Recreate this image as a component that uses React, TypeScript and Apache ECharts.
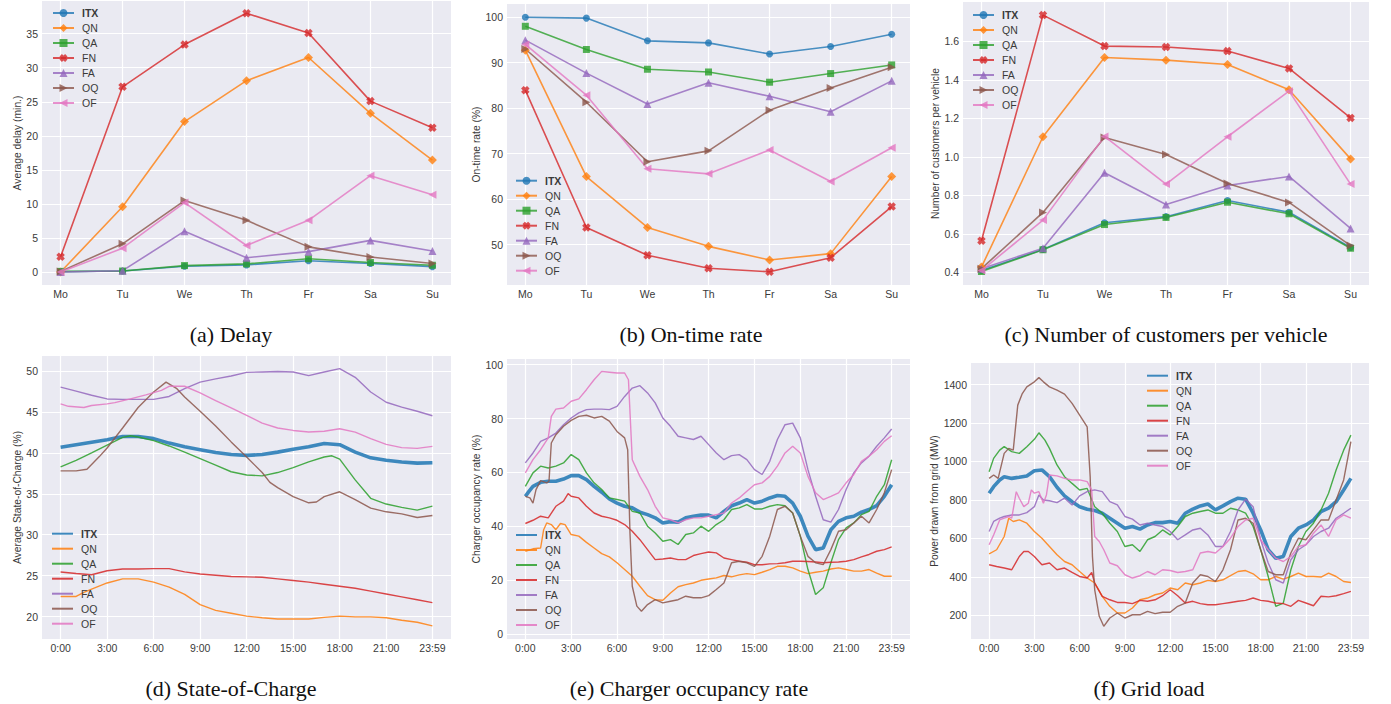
import React, { useEffect, useRef } from 'react';
import * as echarts from 'echarts';

const DAYS = ['Mo', 'Tu', 'We', 'Th', 'Fr', 'Sa', 'Su'];
const NAMES = ['ITX', 'QN', 'QA', 'FN', 'FA', 'OQ', 'OF'];
const COLORS = ['#1f77b4', '#ff7f0e', '#2ca02c', '#d62728', '#9467bd', '#8c564b', '#e377c2'];
const HOUR_TICKS = [0, 3, 6, 9, 12, 15, 18, 21, 23.983];

// (a) Delay
const delayITX = [0.05, 0.15, 0.85, 1.05, 1.65, 1.25, 0.8];
const delayQN = [0, 9.6, 22.1, 28.1, 31.5, 23.3, 16.45];
const delayQA = [0.1, 0.15, 0.95, 1.2, 1.95, 1.4, 1.0];
const delayFN = [2.25, 27.2, 33.4, 38.0, 35.1, 25.1, 21.2];
const delayFA = [0, 0.2, 6.0, 2.1, 3.0, 4.65, 3.1];
const delayOQ = [0.1, 4.15, 10.5, 7.6, 3.7, 2.2, 1.25];
const delayOF = [0, 3.5, 10.2, 3.9, 7.6, 14.15, 11.35];

// (b) On-time rate
const otITX = [100, 99.8, 94.8, 94.35, 91.9, 93.55, 96.25];
const otQN = [92.75, 64.95, 53.75, 49.6, 46.6, 48.0, 64.95];
const otQA = [98.0, 92.9, 88.55, 87.95, 85.7, 87.6, 89.5];
const otFN = [83.95, 53.75, 47.65, 44.8, 44.0, 47.1, 58.35];
const otFA = [94.95, 87.7, 80.9, 85.6, 82.6, 79.2, 86.0];
const otOQ = [93.0, 81.3, 68.2, 70.6, 79.55, 84.4, 89.0];
const otOF = [94.0, 82.85, 66.65, 65.55, 70.8, 63.85, 71.3];

// (c) Customers per vehicle
const cpvITX = [0.41, 0.52, 0.658, 0.69, 0.774, 0.713, 0.53];
const cpvQN = [0.428, 1.105, 1.517, 1.503, 1.48, 1.349, 0.99];
const cpvQA = [0.405, 0.518, 0.649, 0.686, 0.765, 0.705, 0.526];
const cpvFN = [0.565, 1.737, 1.576, 1.571, 1.55, 1.46, 1.203];
const cpvFA = [0.42, 0.526, 0.918, 0.753, 0.852, 0.899, 0.629];
const cpvOQ = [0.42, 0.712, 1.101, 1.013, 0.862, 0.764, 0.54];
const cpvOF = [0.41, 0.672, 1.107, 0.859, 1.105, 1.342, 0.859];

// (d) State-of-Charge [hour, %]
const socITX = [[0,40.7],[1.5,41.15],[3,41.6],[4,42.0],[5,42.0],[6,41.75],[7,41.2],[8,40.75],[9,40.4],[10,40.05],[11,39.8],[12,39.7],[13,39.8],[14,40.1],[15,40.45],[16,40.75],[17,41.15],[18,41.0],[19,40.1],[20,39.4],[21,39.1],[22,38.9],[23,38.75],[23.98,38.8]];
const socQN = [[0,22.45],[1,22.45],[1.5,22.95],[2,23.35],[3,24.1],[4,24.6],[5,24.6],[6,24.2],[7,23.6],[8,22.7],[9,21.45],[10,20.75],[11,20.4],[12,20.05],[13,19.85],[14,19.7],[15,19.7],[16,19.7],[17,19.9],[18,20.05],[19,19.95],[20,19.95],[21,19.85],[22,19.55],[23,19.3],[23.98,18.85]];
const socQA = [[0,38.3],[1,39.1],[2,40.0],[3,40.95],[4,41.9],[4.5,42.1],[5,41.95],[6,41.5],[7,40.85],[8,40.1],[9,39.3],[10,38.5],[11,37.7],[12,37.3],[13,37.2],[14,37.6],[15,38.2],[16,38.9],[17,39.5],[17.5,39.65],[18,39.25],[19,36.7],[20,34.45],[21,33.75],[22,33.35],[23,33.0],[23.98,33.5]];
const socFN = [[0,25.45],[1,25.25],[2,25.1],[3,25.6],[4,25.8],[5,25.8],[6,25.85],[7,25.85],[8,25.45],[9,25.2],[10,25.05],[11,24.9],[12,24.85],[13,24.8],[14,24.6],[15,24.4],[16,24.2],[17,23.95],[18,23.7],[19,23.45],[20,23.1],[21,22.75],[22,22.4],[23,22.05],[23.98,21.7]];
const socFA = [[0,48.05],[1,47.55],[2,47.05],[3,46.6],[4,46.55],[5,46.55],[6,46.55],[7,46.9],[8,47.85],[9,48.65],[10,49.05],[11,49.4],[12,49.85],[13,49.9],[14,49.95],[15,49.9],[16,49.45],[17,49.9],[18,50.3],[19,49.25],[20,47.45],[21,46.2],[22,45.6],[23,45.1],[23.98,44.55]];
const socOQ = [[0,37.8],[1,37.8],[1.7,38.0],[2.5,39.55],[3,40.6],[4,43.05],[5,45.55],[6,47.45],[6.8,48.65],[7.5,47.85],[8,46.85],[9,45.1],[10,43.3],[11,41.35],[12,39.5],[13,37.6],[13.5,36.4],[14,35.75],[15,34.65],[16,33.9],[16.5,34.0],[17,34.65],[18,35.25],[19,34.3],[20,33.25],[21,32.8],[22,32.55],[23,32.1],[23.98,32.35]];
const socOF = [[0,46.0],[0.5,45.7],[1.5,45.55],[2,45.8],[3,46.0],[3.5,46.15],[4.5,46.6],[5.5,47.1],[6.5,47.65],[7,48.15],[8,48.15],[9,47.35],[10,46.4],[11,45.5],[12,44.6],[13,43.65],[14,43.05],[15,42.75],[16,42.55],[17,42.65],[18,42.95],[19,42.55],[20,41.75],[21,41.05],[22,40.65],[23,40.55],[23.98,40.8]];

// (e) Charger occupancy rate [hour, %]
const occITX = [[0,51.1],[0.25,53],[0.5,54.8],[1,56.3],[1.5,56.7],[2,56.7],[2.5,57.5],[3,58.8],[3.5,58.8],[4,57.3],[4.5,54.8],[5,52.6],[5.5,50.1],[6,48.6],[6.5,47.4],[7,46.8],[7.5,45.2],[8,44.3],[8.5,43.1],[9,41.2],[9.5,41.7],[10,41.5],[10.5,43.1],[11,43.7],[11.5,44.1],[12,44.1],[12.5,43.1],[13,45.5],[13.5,47.6],[14,48.6],[14.5,49.9],[15,48.6],[15.5,49.3],[16,50.5],[16.5,51.4],[17,51.1],[17.5,48.6],[18,43.7],[18.5,36.3],[19,31.3],[19.5,31.9],[20,38.7],[20.5,41.8],[21,43.1],[21.5,43.7],[22,45.2],[22.5,46.2],[23,47.6],[23.5,51.1],[23.98,55.4]];
const occQN = [[0,30.7],[0.5,31.6],[1,31.9],[1.2,38.7],[1.4,41.2],[1.7,40.6],[2,38.7],[2.3,41.0],[2.6,40.6],[3,36.9],[3.5,36.3],[4,34.0],[4.5,31.9],[5,29.8],[5.5,28.6],[6,26.4],[6.5,23.9],[7,21.4],[7.5,17.7],[8,14.2],[8.5,12.7],[9,12.5],[9.5,15.2],[10,17.5],[10.5,18.3],[11,18.9],[11.5,19.9],[12,20.4],[12.5,20.8],[13,21.7],[13.5,21.2],[14,21.9],[14.5,22.4],[15,22.0],[15.5,22.9],[16,23.9],[16.5,25.1],[17,25.1],[17.5,24.5],[18,23.3],[18.5,22.4],[19,22.9],[19.5,23.3],[20,24.1],[20.5,24.5],[21,23.9],[21.5,23.3],[22,23.3],[22.5,23.9],[23,22.6],[23.5,21.4],[23.98,21.4]];
const occQA = [[0,54.8],[0.5,59.8],[1,62.3],[1.5,61.6],[2,62.3],[2.5,63.5],[3,66.6],[3.5,64.7],[4,59.8],[4.5,56.1],[5,53.6],[5.5,50.5],[6,49.9],[6.5,49.3],[7,45.5],[7.5,44.9],[8,40.0],[8.5,37.5],[9,34.4],[9.5,35.0],[10,33.2],[10.5,36.9],[11,37.5],[11.5,40.0],[12,38.1],[12.5,40.6],[13,42.4],[13.5,46.2],[14,46.8],[14.5,48.0],[15,46.4],[15.5,46.4],[16,47.4],[16.5,48.0],[17,47.6],[17.5,44.9],[18,36.3],[18.5,23.9],[19,14.6],[19.5,17.1],[20,26.4],[20.5,35.0],[21,39.4],[21.5,41.2],[22,44.3],[22.5,45.5],[23,51.1],[23.5,55.4],[23.98,64.7]];
const occFN = [[0,41.0],[0.5,42.2],[1,43.7],[1.5,43.1],[2,47.4],[2.5,49.3],[2.8,52.1],[3,51.1],[3.5,50.5],[4,47.4],[4.5,44.9],[5,43.7],[5.5,43.1],[6,42.2],[6.5,40.6],[7,38.1],[7.5,35.0],[8,31.3],[8.5,27.6],[9,27.8],[9.5,28.2],[10,27.6],[10.5,27.6],[11,29.1],[11.5,29.8],[12,30.4],[12.5,30.1],[13,28.2],[13.5,27.6],[14,27.0],[14.5,26.6],[15,25.7],[15.5,25.7],[16,26.0],[16.5,26.1],[17,26.4],[17.5,27.0],[18,27.0],[18.5,26.9],[19,26.7],[19.5,26.4],[20,26.6],[20.5,26.7],[21,27.0],[21.5,27.6],[22,28.6],[22.5,29.5],[23,30.7],[23.5,31.3],[23.98,32.3]];
const occFA = [[0,63.5],[0.5,67.2],[1,71.5],[1.5,72.8],[2,74.6],[2.5,77.7],[3,80.2],[3.5,82.1],[4,83.3],[4.5,83.5],[5,83.5],[5.5,83.3],[6,84.5],[6.5,88.2],[7,91.3],[7.5,92.2],[8,89.5],[8.5,85.8],[9,80.2],[9.5,77.1],[10,73.4],[10.5,72.8],[11,72.2],[11.5,73.4],[12,70.3],[12.5,67.2],[13,64.7],[13.5,66.2],[14,66.6],[14.5,64.7],[15,61.0],[15.5,59.2],[16,64.1],[16.5,72.2],[17,77.7],[17.5,78.3],[18,72.8],[18.5,61.0],[19,51.1],[19.5,42.4],[20,41.5],[20.5,46.2],[21,53.6],[21.5,59.8],[22,63.5],[22.5,66.0],[23,69.7],[23.5,72.8],[23.98,76.1]];
const occOQ = [[0,51.1],[0.3,50.5],[0.5,48.6],[0.7,53.6],[1,56.9],[1.4,56.1],[1.55,56.7],[1.7,70.9],[2,74.0],[2.5,77.1],[3,79.3],[3.5,80.8],[4,81.2],[4.5,80.2],[5,80.8],[5.5,79.0],[6,75.2],[6.5,72.8],[6.7,68.4],[6.85,37.5],[7,17.7],[7.3,10.3],[7.6,8.4],[8,10.9],[8.5,12.7],[9,11.5],[9.5,12.1],[10,12.7],[10.5,14.0],[11,13.4],[11.5,13.4],[12,14.2],[12.5,16.5],[13,18.9],[13.5,26.4],[14,27.0],[14.5,26.4],[15,25.1],[15.5,28.8],[16,36.3],[16.5,46.2],[17,47.4],[17.5,44.9],[18,36.3],[18.5,28.8],[19,26.4],[19.5,25.7],[20,31.3],[20.5,38.1],[21,38.7],[21.5,41.2],[22,43.7],[22.5,41.2],[23,46.2],[23.5,52.4],[23.98,61.0]];
const occOF = [[0,59.8],[0.5,64.7],[1,68.4],[1.5,72.8],[1.7,80.8],[2,83.5],[2.5,83.9],[3,86.4],[3.5,87.3],[4,90.7],[4.5,94.4],[5,97.5],[5.5,97.2],[6,96.9],[6.5,96.9],[6.75,94.4],[7,64.7],[7.5,58.5],[8,53.6],[8.5,47.4],[9,43.1],[9.5,42.4],[10,41.2],[10.5,42.4],[11,43.1],[11.5,43.1],[12,43.7],[12.5,44.3],[13,44.9],[13.5,48.6],[14,50.5],[14.5,53.0],[15,55.4],[15.5,56.1],[16,58.5],[16.5,62.3],[17,67.2],[17.5,69.7],[18,67.2],[18.5,58.5],[19,52.4],[19.5,49.9],[20,51.1],[20.5,52.4],[21,56.1],[21.5,59.2],[22,64.1],[22.5,66.0],[23,68.4],[23.5,71.5],[23.98,73.6]];

// (f) Grid load [hour, MW]
const gridITX = [[0,835],[0.3,869],[0.7,904],[1,921],[1.5,912],[2,918],[2.5,925],[3,952],[3.5,956],[4,921],[4.5,866],[5,821],[5.5,791],[6,765],[6.5,752],[7,745],[7.5,731],[8,705],[8.5,679],[9,653],[9.5,662],[10,648],[10.5,670],[11,682],[11.5,682],[12,688],[12.5,679],[13,731],[13.5,752],[14,769],[14.5,779],[15,748],[15.5,769],[16,791],[16.5,809],[17,804],[17.5,731],[18,644],[18.5,541],[19,497],[19.5,506],[20,610],[20.5,653],[21,670],[21.5,696],[22,740],[22.5,757],[23,791],[23.5,852],[23.98,912]];
const gridQN = [[0,520],[0.5,541],[1,610],[1.3,705],[1.6,688],[2,696],[2.5,679],[3,636],[3.5,601],[4,558],[4.5,515],[5,480],[5.5,463],[6,428],[6.5,394],[7,368],[7.5,299],[8,247],[8.5,212],[9,212],[9.5,238],[10,281],[10.5,290],[11,307],[11.5,316],[12,342],[12.5,333],[13,368],[13.5,359],[14,368],[14.5,382],[15,376],[15.5,385],[16,406],[16.5,428],[17,433],[17.5,416],[18,385],[18.5,385],[19,402],[19.5,388],[20,402],[20.5,420],[21,402],[21.5,402],[22,399],[22.5,420],[23,402],[23.5,376],[23.98,371]];
const gridQA = [[0,947],[0.3,1016],[0.7,1059],[1,1077],[1.5,1051],[2,1042],[2.5,1077],[3,1115],[3.3,1149],[3.7,1111],[4,1068],[4.5,982],[5,921],[5.5,886],[6,852],[6.5,860],[7,765],[7.5,731],[8,679],[8.5,636],[9,558],[9.5,567],[10,532],[10.5,593],[11,610],[11.5,644],[12,618],[12.5,662],[13,714],[13.5,731],[14,740],[14.5,748],[15,731],[15.5,731],[16,757],[16.5,748],[17,731],[17.5,662],[18,541],[18.5,402],[19,247],[19.5,264],[20,437],[20.5,558],[21,636],[21.5,679],[22,748],[22.5,835],[23,956],[23.5,1059],[23.98,1137]];
const gridFN = [[0,463],[0.5,454],[1,446],[1.5,437],[2,506],[2.3,532],[2.6,532],[3,506],[3.5,463],[4,472],[4.5,437],[5,446],[5.5,423],[6,402],[6.5,394],[6.8,423],[7,368],[7.5,299],[8,281],[8.5,267],[9,267],[9.5,261],[10,278],[10.5,273],[11,281],[11.5,302],[12,333],[12.5,302],[13,264],[13.5,273],[14,261],[14.5,255],[15,255],[15.5,261],[16,267],[16.5,273],[17,278],[17.5,290],[18,278],[18.5,273],[19,264],[19.5,261],[20,247],[20.5,278],[21,264],[21.5,250],[22,299],[22.5,296],[23,302],[23.5,313],[23.98,325]];
const gridFA = [[0,636],[0.3,688],[0.7,705],[1,714],[1.5,722],[2,722],[2.5,734],[3,765],[3.3,826],[3.6,800],[4,796],[4.5,786],[5,809],[5.5,774],[6,821],[6.5,843],[7,852],[7.5,843],[8,791],[8.5,774],[9,714],[9.5,700],[10,670],[10.5,679],[11,670],[11.5,662],[12,636],[12.5,593],[13,618],[13.5,644],[14,653],[14.5,618],[15,558],[15.5,558],[16,636],[16.5,748],[17,804],[17.5,765],[18,593],[18.5,472],[19,385],[19.5,368],[20,489],[20.5,541],[21,567],[21.5,610],[22,636],[22.5,653],[23,705],[23.5,731],[23.98,757]];
const gridOQ = [[0,912],[0.3,930],[0.6,912],[1,1042],[1.3,1068],[1.6,1059],[1.9,1293],[2.2,1353],[2.5,1388],[3,1414],[3.3,1436],[3.6,1414],[4,1388],[4.5,1371],[5,1350],[5.5,1302],[6,1241],[6.5,1180],[6.7,921],[6.85,506],[7,333],[7.3,195],[7.6,143],[8,186],[8.5,212],[9,186],[9.5,203],[10,203],[10.5,221],[11,209],[11.5,216],[12,216],[12.5,247],[13,264],[13.5,368],[14,411],[14.5,402],[15,376],[15.5,437],[16,541],[16.5,696],[17,705],[17.5,679],[18,541],[18.5,428],[19,411],[19.5,411],[20,524],[20.5,601],[21,593],[21.5,644],[22,696],[22.5,696],[23,800],[23.5,904],[23.98,1103]];
const gridOF = [[0,567],[0.3,618],[0.7,696],[1,705],[1.3,714],[1.5,705],[1.8,843],[2,809],[2.3,765],[2.6,783],[2.8,852],[3,835],[3.3,843],[3.6,783],[3.8,826],[4,930],[4.5,925],[5,912],[5.5,904],[6,904],[6.5,895],[6.8,852],[7,610],[7.3,584],[7.6,541],[8,472],[8.5,458],[9,411],[9.5,394],[10,406],[10.5,428],[11,411],[11.5,437],[12,433],[12.5,423],[13,428],[13.5,437],[14,524],[14.5,532],[15,524],[15.5,558],[16,601],[16.5,662],[17,696],[17.5,705],[18,593],[18.5,541],[19,497],[19.5,480],[20,506],[20.5,558],[21,567],[21.5,627],[22,670],[22.5,610],[23,696],[23.5,722],[23.98,705]];

const XPATH = 'path://M0.3,0 L0.5,0.2 L0.7,0 L1,0.3 L0.8,0.5 L1,0.7 L0.7,1 L0.5,0.8 L0.3,1 L0,0.7 L0.2,0.5 L0,0.3 Z';
const SYMBOLS = ['circle', 'diamond', 'rect', XPATH, 'triangle', 'triangle', 'triangle'];
const SIZES = [7, 9, 7, 8.5, 8, 8, 8];
const ROTS = [0, 0, 0, 0, 0, -90, 90];

const SANS = '"Liberation Sans", Arial, sans-serif';
const SERIF = '"Liberation Serif", "Times New Roman", serif';
const TXT = '#3a3a3a';

const GRIDS = [
  { left: 42, top: 1, width: 409, height: 284 },
  { left: 507, top: 4, width: 403, height: 281 },
  { left: 963, top: 2, width: 406, height: 283 },
  { left: 42, top: 356, width: 409, height: 283 },
  { left: 507, top: 359, width: 403, height: 280 },
  { left: 971, top: 363, width: 398, height: 276 },
];

const Y_NAMES = ['Average delay (min.)', 'On-time rate (%)', 'Number of customers per vehicle', 'Average State-of-Charge (%)', 'Charger occupancy rate (%)', 'Power drawn from grid (MW)'];
const Y_MIN = [-1.9, 41.1, 0.335, 17.25, -1.9, 77];
const Y_MAX = [39.8, 102.9, 1.805, 51.85, 102.1, 1512];
const Y_TICKS = [[0, 5, 10, 15, 20, 25, 30, 35], [50, 60, 70, 80, 90, 100], [0.4, 0.6, 0.8, 1.0, 1.2, 1.4, 1.6], [20, 25, 30, 35, 40, 45, 50], [0, 20, 40, 60, 80, 100], [200, 400, 600, 800, 1000, 1200, 1400]];
const Y_GAP = [20, 25, 22, 20, 25, 30];
const LEGEND_POS = [[52, 7], [515, 174.7], [972, 9], [51, 527.7], [515, 529], [1146, 369.7]];
const CAPTIONS = [['(a) Delay', 231, 334], ['(b) On-time rate', 691, 334], ['(c) Number of customers per vehicle', 1166, 334], ['(d) State-of-Charge', 231, 688], ['(e) Charger occupancy rate', 689, 688], ['(f) Grid load', 1149, 688]];

const WEEK_DATA = [
  [delayITX, delayQN, delayQA, delayFN, delayFA, delayOQ, delayOF],
  [otITX, otQN, otQA, otFN, otFA, otOQ, otOF],
  [cpvITX, cpvQN, cpvQA, cpvFN, cpvFA, cpvOQ, cpvOF],
];
const DAY_DATA = [
  [socITX, socQN, socQA, socFN, socFA, socOQ, socOF],
  [occITX, occQN, occQA, occFN, occFA, occOQ, occOF],
  [gridITX, gridQN, gridQA, gridFN, gridFA, gridOQ, gridOF],
];

function buildOption() {
  const grid: any[] = [];
  const xAxis: any[] = [];
  const yAxis: any[] = [];
  const series: any[] = [];
  const legend: any[] = [];
  const tag = 'abcdef';

  for (let p = 0; p < 6; p++) {
    const top = p < 3;
    grid.push({ ...GRIDS[p], show: true, backgroundColor: '#EAEAF2', borderWidth: 0, containLabel: false });
    const xTicks = top ? [0, 1, 2, 3, 4, 5, 6] : HOUR_TICKS;
    xAxis.push({
      type: 'value', gridIndex: p,
      min: top ? -0.3 : -1.2, max: top ? 6.3 : 25.18,
      axisLine: { show: false },
      axisTick: { show: false, customValues: xTicks },
      axisLabel: {
        customValues: xTicks, margin: 3, color: TXT, fontSize: 10.5, fontFamily: SANS,
        formatter: (v: number) => top ? DAYS[Math.round(v)] : (v > 23.5 ? '23:59' : `${Math.round(v)}:00`),
      },
      splitLine: { show: true, lineStyle: { color: '#ffffff', width: 1.2 } },
    });
    yAxis.push({
      type: 'value', gridIndex: p, min: Y_MIN[p], max: Y_MAX[p],
      name: Y_NAMES[p], nameLocation: 'middle', nameGap: Y_GAP[p],
      nameTextStyle: { color: TXT, fontSize: 10.3, fontFamily: SANS },
      axisLine: { show: false },
      axisTick: { show: false, customValues: Y_TICKS[p] },
      axisLabel: {
        customValues: Y_TICKS[p], margin: 4, color: TXT, fontSize: 10.5, fontFamily: SANS,
        formatter: (v: number) => p === 2 ? v.toFixed(1) : String(v),
      },
      splitLine: { show: true, lineStyle: { color: '#ffffff', width: 1.2 } },
    });

    for (let i = 0; i < 7; i++) {
      const name = `${NAMES[i]}|${tag[p]}`;
      const color = COLORS[i];
      if (top) {
        series.push({
          type: 'line', name, xAxisIndex: p, yAxisIndex: p,
          data: WEEK_DATA[p][i].map((v, j) => [j, v]),
          symbol: SYMBOLS[i], symbolSize: SIZES[i], symbolRotate: ROTS[i], showSymbol: true,
          lineStyle: { width: 1.6, color, opacity: 0.8 },
          itemStyle: { color, opacity: 0.8 },
          silent: true,
        });
      } else {
        series.push({
          type: 'line', name, xAxisIndex: p, yAxisIndex: p,
          data: DAY_DATA[p - 3][i],
          symbol: 'none', showSymbol: false,
          lineStyle: { width: i === 0 ? 3.6 : 1.4, color, opacity: 0.85 },
          itemStyle: { color, opacity: 0.85 },
          silent: true,
        });
      }
    }

    legend.push({
      orient: 'vertical', left: LEGEND_POS[p][0], top: LEGEND_POS[p][1],
      itemWidth: 21, itemHeight: top ? 10 : 8, itemGap: 3, selectedMode: false,
      padding: 0,
      itemStyle: top ? {} : { opacity: 0 },
      data: NAMES.map((n) => ({ name: `${n}|${tag[p]}`, textStyle: n === 'ITX' ? { fontWeight: 'bold' } : {} })),
      formatter: (n: string) => n.split('|')[0],
      textStyle: { fontSize: 10.5, color: TXT, fontFamily: SANS, lineHeight: 12, padding: [0, 0, 0, 3] },
    });
  }

  const graphic = CAPTIONS.map(([t, x, y]) => ({
    type: 'text', x: x as number, y: y as number,
    style: { text: t as string, fill: '#111', font: `22px ${SERIF}`, textAlign: 'center', textVerticalAlign: 'middle' },
  }));

  return { animation: false, grid, xAxis, yAxis, series, legend, graphic };
}

export default function App() {
  const ref = useRef<HTMLDivElement>(null);
  useEffect(() => {
    document.body.style.margin = '0';
    const chart = echarts.init(ref.current!, null, { renderer: 'svg' });
    chart.setOption(buildOption() as any);
    return () => chart.dispose();
  }, []);
  return <div ref={ref} style={{ width: 1391, height: 704, background: '#fff' }} />;
}
